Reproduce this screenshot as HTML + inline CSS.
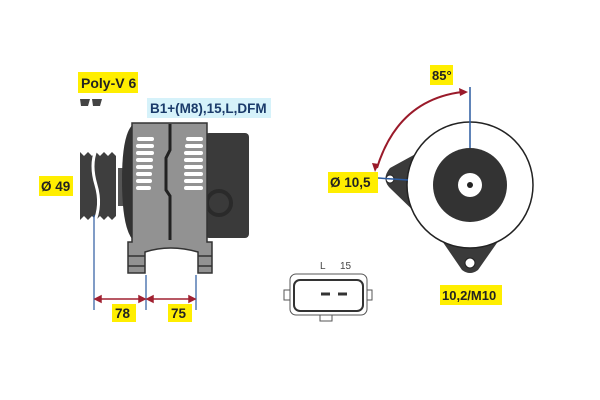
<!DOCTYPE html><html><head><style>body{margin:0;background:#fff}svg{display:block}text{font-family:"Liberation Sans",sans-serif;font-weight:bold}</style></head><body>
<svg width="600" height="400" viewBox="0 0 600 400">
<rect width="600" height="400" fill="#fff"/>
<rect x="78" y="72" width="60" height="21" fill="#ffee00"/><text x="81" y="88" font-size="14" fill="#222">Poly-V 6</text>
<path d="M80 99h10l-2 7h-7zM92 99h10l-2 7h-7z" fill="#444"/>
<rect x="147" y="98" width="124" height="20" fill="#d6f2fa"/><text x="150" y="113" font-size="13.5" fill="#1a3a6a">B1+(M8),15,L,DFM</text>
<rect x="39" y="176" width="34" height="20" fill="#ffee00"/><text x="41" y="191" font-size="13.5" fill="#222">Ø 49</text>
<path d="M80 152 l4 4 4-4 4 4 4-4 4 4 4-4 4 4 4-4 4 4v60l-4 4-4-4-4 4-4-4-4 4-4-4-4 4-4-4-4 4z" fill="#3e3e3e"/>
<path d="M96 150 q-6 15 0 35 q6 20 -2 38" stroke="#fff" stroke-width="3" fill="none"/>
<rect x="118" y="168" width="8" height="38" fill="#555"/>
<path d="M135 123 Q122 130 122 180 Q122 232 135 242z" fill="#333"/>
<rect x="205" y="133" width="44" height="105" rx="4" fill="#3a3a3a"/>
<circle cx="219" cy="203" r="12" fill="none" stroke="#2a2a2a" stroke-width="4"/>
<path d="M132 123 H207 V242 H212 V273 H198 V252 Q170 244 145 252 V273 H128 V242 H132z" fill="#929292" stroke="#333" stroke-width="1.5"/>
<path d="M128 256H145M198 256H212M128 266H145M198 266H212" stroke="#333" stroke-width="1.5"/>
<path d="M170 124 V150 L166 158 V190 L170 196 V240" stroke="#222" stroke-width="3" fill="none"/>
<g fill="#fff">
<rect x="137" y="137" width="17" height="4" rx="2"/><rect x="136" y="144" width="18" height="4" rx="2"/><rect x="136" y="151" width="18" height="4" rx="2"/><rect x="136" y="158" width="17" height="4" rx="2"/><rect x="136" y="165" width="17" height="4" rx="2"/><rect x="136" y="172" width="16" height="4" rx="2"/><rect x="136" y="179" width="16" height="4" rx="2"/><rect x="136" y="186" width="15" height="4" rx="2"/>
<rect x="186" y="137" width="17" height="4" rx="2"/><rect x="185" y="144" width="18" height="4" rx="2"/><rect x="184" y="151" width="19" height="4" rx="2"/><rect x="184" y="158" width="19" height="4" rx="2"/><rect x="184" y="165" width="19" height="4" rx="2"/><rect x="184" y="172" width="19" height="4" rx="2"/><rect x="184" y="179" width="19" height="4" rx="2"/><rect x="184" y="186" width="19" height="4" rx="2"/>
</g>
<g stroke="#2a5aa0" stroke-width="1.2"><line x1="94" y1="215" x2="94" y2="310"/><line x1="146" y1="275" x2="146" y2="310"/><line x1="196" y1="275" x2="196" y2="310"/></g>
<g stroke="#a02030" stroke-width="1.5" fill="#a02030"><line x1="96" y1="299" x2="144" y2="299"/><line x1="148" y1="299" x2="194" y2="299"/>
<path d="M95 299l6-3v6zM145 299l-6-3v6zM147 299l6-3v6zM195 299l-6-3v6z"/></g>
<rect x="112" y="304" width="24" height="18" fill="#ffee00"/><text x="115" y="318" font-size="13.5" fill="#222">78</text>
<rect x="168" y="304" width="24" height="18" fill="#ffee00"/><text x="171" y="318" font-size="13.5" fill="#222">75</text>
<text x="320" y="269" font-size="10" fill="#444" style="font-weight:normal">L</text><text x="340" y="269" font-size="10" fill="#444" style="font-weight:normal">15</text>
<rect x="290" y="274" width="77" height="41" rx="6" fill="#fff" stroke="#555"/>
<rect x="294" y="280" width="69" height="31" rx="6" fill="none" stroke="#333" stroke-width="2"/>
<path d="M321 294h9M338 294h9" stroke="#333" stroke-width="3"/>
<rect x="284" y="290" width="6" height="10" fill="#fff" stroke="#555"/><rect x="367" y="290" width="5" height="10" fill="#fff" stroke="#555"/>
<rect x="320" y="315" width="12" height="6" fill="#fff" stroke="#555"/>
<path d="M432 145 L390 168 Q380 180 392 190 L425 222z M438 235 L462 270 Q470 276 478 270 L506 230z" fill="#3a3a3a"/>
<circle cx="470" cy="185" r="63" fill="#fff" stroke="#222" stroke-width="1.5"/>
<circle cx="470" cy="185" r="37" fill="#333"/>
<circle cx="470" cy="185" r="12" fill="#fff"/><circle cx="470" cy="185" r="3" fill="#222"/>
<circle cx="390" cy="179" r="4" fill="#fff" stroke="#222"/><circle cx="470" cy="263" r="5" fill="#fff" stroke="#222"/>
<line x1="470" y1="87" x2="470" y2="148" stroke="#2a5aa0" stroke-width="1.5"/>
<line x1="378" y1="178" x2="408" y2="180" stroke="#2a5aa0" stroke-width="1.5"/>
<path d="M462 92 Q398 100 377 168" stroke="#9a1a2a" stroke-width="2" fill="none"/>
<path d="M468 92l-9-4 1 8zM375 172l-3-9 7 1z" fill="#9a1a2a"/>
<rect x="430" y="65" width="23" height="20" fill="#ffee00"/><text x="432" y="80" font-size="13" fill="#222">85°</text>
<rect x="328" y="172" width="50" height="21" fill="#ffee00"/><text x="330" y="187" font-size="13.5" fill="#222">Ø 10,5</text>
<rect x="440" y="285" width="62" height="20" fill="#ffee00"/><text x="442" y="300" font-size="13" fill="#222">10,2/M10</text>
</svg></body></html>
